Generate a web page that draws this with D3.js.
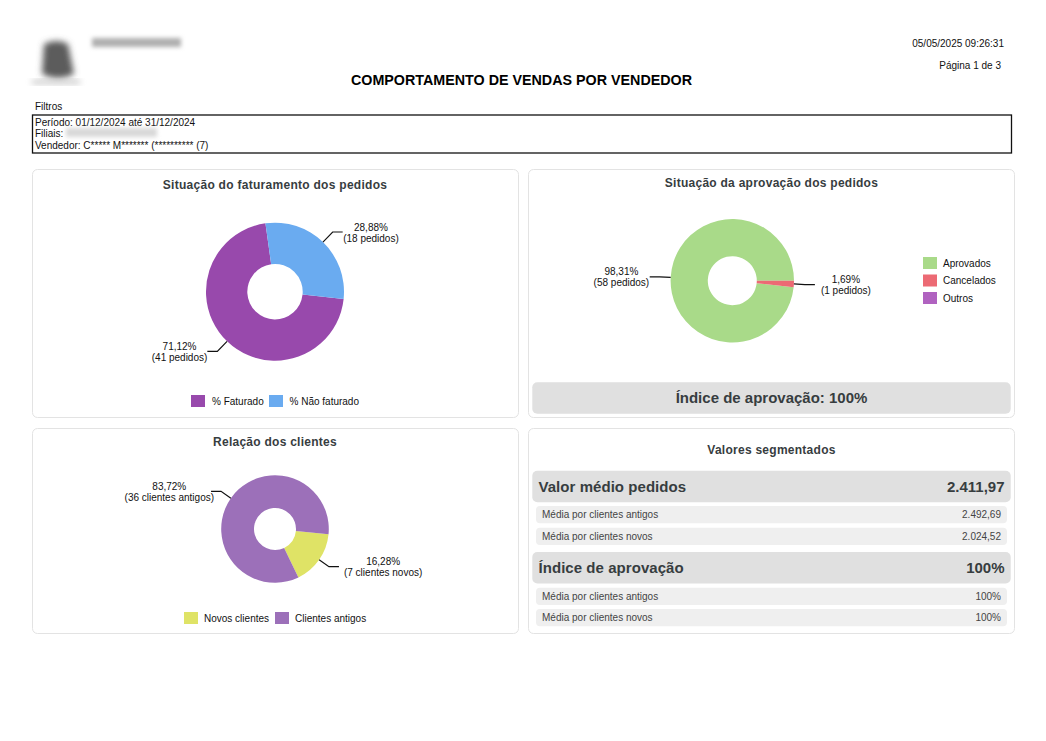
<!DOCTYPE html>
<html>
<head>
<meta charset="utf-8">
<script src="https://cdn.jsdelivr.net/npm/d3@7"></script>
<style>
  html, body { margin: 0; padding: 0; background: #fff; }
  text { font-family: "Liberation Sans", Arial, sans-serif; }
</style>
</head>
<body>
<svg class="page"></svg>
<script>
// Data
const faturamentoLabels = ["% Faturado", "% Não faturado"]
const faturamentoValues = [71.12, 28.88]
const faturamentoTexts = ["71,12%", "28,88%"]
const faturamentoCounts = ["(41 pedidos)", "(18 pedidos)"]
const faturamentoColors = ["#9849AC", "#6AABF0"]

const aprovacaoLabels = ["Aprovados", "Cancelados", "Outros"]
const aprovacaoValues = [98.31, 1.69, 0]
const aprovacaoTexts = ["98,31%", "1,69%", ""]
const aprovacaoCounts = ["(58 pedidos)", "(1 pedidos)", ""]
const aprovacaoColors = ["#A9DA89", "#EC6A74", "#B062C0"]

const clientesLabels = ["Novos clientes", "Clientes antigos"]
const clientesValues = [16.28, 83.72]
const clientesTexts = ["16,28%", "83,72%"]
const clientesCounts = ["(7 clientes novos)", "(36 clientes antigos)"]
const clientesColors = ["#DFE366", "#9C70B9"]

const valorLabels = ["Média por clientes antigos", "Média por clientes novos"]
const valorMedio = ["2.492,69", "2.024,52"]
const indiceMedio = ["100%", "100%"]

const filtros = ["Período: 01/12/2024 até 31/12/2024", "Filiais:", "Vendedor: C***** M******* (********** (7)"]

const width = 1046, height = 741
const titleColor = "#373d3f"

const svg = d3.select(".page").attr("width", width).attr("height", height).style("display", "block")

const defs = svg.append("defs")
defs.append("filter").attr("id", "blur4").attr("x", "-40%").attr("y", "-40%").attr("width", "180%").attr("height", "180%")
  .append("feGaussianBlur").attr("stdDeviation", 3.2)
defs.append("filter").attr("id", "blur2").attr("x", "-20%").attr("y", "-80%").attr("width", "140%").attr("height", "260%")
  .append("feGaussianBlur").attr("stdDeviation", 2.2)

function label(x, y, txt, size, opts = {}) {
  return svg.append("text")
    .attr("x", x).attr("y", y)
    .attr("text-anchor", opts.anchor || "start")
    .attr("font-size", size)
    .attr("font-weight", opts.bold ? "bold" : "normal")
    .attr("letter-spacing", opts.spacing || 0)
    .attr("fill", opts.color || "#111")
    .text(txt)
}

function box(x, y, w, h, fill, r) {
  return svg.append("rect").attr("x", x).attr("y", y).attr("width", w).attr("height", h)
    .attr("rx", r).attr("fill", fill)
}

// Header
svg.append("path").attr("d", "M44,44 Q57,38 68,44 L74,74 Q58,82 42,74 Z").attr("fill", "#5c5c5c").attr("filter", "url(#blur4)")
svg.append("rect").attr("x", 32).attr("y", 80).attr("width", 48).attr("height", 4).attr("fill", "#c4c4c4").attr("filter", "url(#blur4)")
svg.append("rect").attr("x", 92).attr("y", 38).attr("width", 89).attr("height", 9).attr("fill", "#b0b0b0").attr("filter", "url(#blur2)")

label(1004, 46.5, "05/05/2025 09:26:31", 10, { anchor: "end" })
label(1001, 69, "Página 1 de 3", 10, { anchor: "end" })
label(521.5, 85, "COMPORTAMENTO DE VENDAS POR VENDEDOR", 14.3, { anchor: "middle", bold: true, color: "#000" })

label(35, 110, "Filtros", 10)
svg.append("rect").attr("x", 32.5).attr("y", 115).attr("width", 979).attr("height", 38)
  .attr("fill", "#fff").attr("stroke", "#111").attr("stroke-width", 1.3)
filtros.forEach((f, i) => label(35, 125.5 + i * 11.6, f, 10))
svg.append("rect").attr("x", 66).attr("y", 128).attr("width", 91).attr("height", 9).attr("fill", "#d8d8d8").attr("filter", "url(#blur2)")

// Cards
const cards = [[32.5, 169.5, 486, 248], [528.5, 169.5, 486, 248], [32.5, 428.5, 486, 205], [528.5, 428.5, 486, 205]]
svg.selectAll(".card").data(cards).join("rect").attr("class", "card")
  .attr("x", d => d[0]).attr("y", d => d[1]).attr("width", d => d[2]).attr("height", d => d[3])
  .attr("rx", 5).attr("fill", "#fff").attr("stroke", "#e3e3e3").attr("stroke-width", 1)

function donut({ values, texts, counts, colors, cx, cy, r, r0, start, radial, gaps }) {
  const pie = d3.pie().sort(null).startAngle(start * Math.PI / 180).endAngle((start + 360) * Math.PI / 180)
  const arcs = pie(values)
  const arc = d3.arc().innerRadius(r0).outerRadius(r)
  const edge = d3.arc().innerRadius(r).outerRadius(r)
  const outer = d3.arc().innerRadius(r + radial).outerRadius(r + radial)
  const g = svg.append("g").attr("transform", `translate(${cx},${cy})`)

  g.selectAll(".slice").data(arcs).join("path").attr("class", "slice")
    .attr("d", arc).attr("fill", (d, i) => colors[i])

  arcs.forEach((d, i) => {
    if (!d.value) return
    const p0 = edge.centroid(d), p1 = outer.centroid(d)
    const side = p1[0] > 0 ? 1 : -1
    const p2 = [p1[0] + side * 10, p1[1]]
    g.append("path").attr("d", d3.line()([p0, p1, p2])).attr("fill", "none").attr("stroke", "#111").attr("stroke-width", 1.2)

    const t = g.append("text").attr("font-size", 10).attr("fill", "#111").attr("text-anchor", "middle")
    const a = t.append("tspan").text(texts[i])
    const b = t.append("tspan").text(counts[i])
    const w = Math.max(a.node().getComputedTextLength(), b.node().getComputedTextLength())
    const tx = p2[0] + side * w / 2 + gaps[i]
    a.attr("x", tx).attr("y", p2[1] - 1.5)
    b.attr("x", tx).attr("y", p2[1] + 9.5)
  })
}

// Situação do faturamento
label(275, 189, "Situação do faturamento dos pedidos", 12, { anchor: "middle", bold: true, color: titleColor, spacing: 0.28 })
donut({ values: faturamentoValues, texts: faturamentoTexts, counts: faturamentoCounts,
  colors: faturamentoColors, cx: 275, cy: 291.7, r: 69, r0: 27.7, start: 96, radial: 14, gaps: [0, 0.5] })
box(191, 395, 14, 12, faturamentoColors[0], 0)
label(212, 404.5, faturamentoLabels[0], 10)
box(269, 395, 14, 12, faturamentoColors[1], 0)
label(289.5, 404.5, faturamentoLabels[1], 10)

// Situação da aprovação
label(771.5, 187, "Situação da aprovação dos pedidos", 12, { anchor: "middle", bold: true, color: titleColor, spacing: 0.26 })
donut({ values: aprovacaoValues, texts: aprovacaoTexts, counts: aprovacaoCounts,
  colors: aprovacaoColors, cx: 732.3, cy: 280.7, r: 61.7, r0: 24.5, start: 96.08, radial: 11, gaps: [-0.5, 6, 0] })
aprovacaoLabels.forEach((l, i) => {
  box(923, 257 + i * 17.5, 14, 12, aprovacaoColors[i], 0)
  label(943, 266.5 + i * 17.5, l, 10)
})
box(532.3, 382.3, 478.4, 31.4, "#e0e0e0", 5)
label(771.5, 403, "Índice de aprovação: 100%", 15, { anchor: "middle", bold: true, color: titleColor })

// Relação dos clientes
label(275, 445.5, "Relação dos clientes", 12, { anchor: "middle", bold: true, color: titleColor, spacing: 0.26 })
donut({ values: clientesValues, texts: clientesTexts, counts: clientesCounts,
  colors: clientesColors, cx: 275, cy: 529, r: 53.8, r0: 21, start: 95.6, radial: 12, gaps: [5, 3] })
box(184, 612, 14, 12, clientesColors[0], 0)
label(204, 622, clientesLabels[0], 10)
box(275, 612, 14, 12, clientesColors[1], 0)
label(295, 622, clientesLabels[1], 10)

// Valores segmentados
label(771.5, 454, "Valores segmentados", 12, { anchor: "middle", bold: true, color: titleColor, spacing: 0.26 })

function segment(y, titulo, total, subs, subY) {
  box(532.3, y, 478.4, 31.5, "#e0e0e0", 5)
  label(538.5, y + 21, titulo, 15, { bold: true, color: titleColor, spacing: 0.05 })
  label(1004.5, y + 21, total, 15, { anchor: "end", bold: true, color: titleColor })
  subs.forEach((s, i) => {
    box(536, subY[i], 471, 17.3, "#efefef", 4)
    label(542, subY[i] + 12.3, valorLabels[i], 10, { color: "#444" })
    label(1001, subY[i] + 12.3, s, 10, { anchor: "end", color: "#444" })
  })
}
segment(470.7, "Valor médio pedidos", "2.411,97", valorMedio, [506, 527.7])
segment(552, "Índice de aprovação", "100%", indiceMedio, [587.7, 609])
</script>
</body>
</html>
